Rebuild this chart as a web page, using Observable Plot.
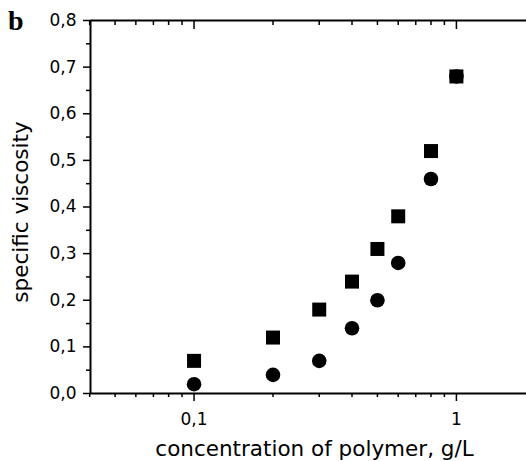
<!DOCTYPE html>
<html>
<head>
<meta charset="utf-8">
<script src="https://cdn.jsdelivr.net/npm/d3@7"></script>
<script src="https://cdn.jsdelivr.net/npm/@observablehq/plot@0.6"></script>
<style>
  html, body { margin: 0; padding: 0; background: #fff; }
  #wrap { position: relative; width: 526px; height: 461px; }
  #panel { position: absolute; z-index: 2; left: 8px; top: 7px; font-family: "Liberation Serif", "DejaVu Serif", serif; font-weight: bold; font-size: 28px; line-height: 1; color: #000; }
</style>
</head>
<body>
<div id="wrap"><div id="panel">b</div></div>
<script>
// Data
const concentration = [0.1, 0.2, 0.3, 0.4, 0.5, 0.6, 0.8, 1.0];
const squareSeries = [0.07, 0.12, 0.18, 0.24, 0.31, 0.38, 0.52, 0.68];
const circleSeries = [0.02, 0.04, 0.07, 0.14, 0.20, 0.28, 0.46, 0.68];

const yMajorTicks = [0, 0.1, 0.2, 0.3, 0.4, 0.5, 0.6, 0.7, 0.8];
const yMinorTicks = [0.05, 0.15, 0.25, 0.35, 0.45, 0.55, 0.65, 0.75];
const xMajorTicks = [0.1, 1];
const xMinorTicks = [0.04, 0.05, 0.06, 0.07, 0.08, 0.09, 0.2, 0.3, 0.4, 0.5, 0.6, 0.7, 0.8, 0.9];
const xDomain = [0.0403, 1.85];
const yDomain = [0, 0.8];
const xTitle = "concentration of polymer, g/L";
const yTitle = "specific viscosity";

const commaFmt = d => String(+d.toFixed(1)).replace(".", ",");
const yFmt = d => d.toFixed(1).replace(".", ",");
const blank = () => "";

const squares = concentration.map((c, i) => ({c, v: squareSeries[i]}));
const circles = concentration.map((c, i) => ({c, v: circleSeries[i]}));

const chart = Plot.plot({
  width: 526,
  height: 461,
  marginLeft: 90,
  marginTop: 20,
  marginBottom: 68,
  marginRight: 0,
  x: {type: "log", domain: xDomain},
  y: {domain: yDomain},
  style: {fontFamily: "'DejaVu Sans', sans-serif", background: "white", color: "black"},
  marks: [
    Plot.axisY({ticks: yMajorTicks, tickSize: 7, tickPadding: 7, tickFormat: yFmt, fontSize: 17, label: null, strokeWidth: 1.5}),
    Plot.axisY({ticks: yMinorTicks, tickSize: 4, tickFormat: blank, label: null, strokeWidth: 1.5}),
    Plot.axisX({ticks: xMajorTicks, tickSize: 8, tickPadding: 11, tickFormat: commaFmt, fontSize: 17, label: null, strokeWidth: 1.5}),
    Plot.axisX({ticks: xMinorTicks, tickSize: 4, tickFormat: blank, label: null, strokeWidth: 1.5}),
    Plot.axisX({anchor: "top", ticks: xMajorTicks, tickSize: -8, tickFormat: blank, label: null, strokeWidth: 1.5}),
    Plot.axisX({anchor: "top", ticks: xMinorTicks, tickSize: -4, tickFormat: blank, label: null, strokeWidth: 1.5}),
    Plot.ruleX([xDomain[0]], {strokeWidth: 2}),
    Plot.ruleY(yDomain, {strokeWidth: 2}),
    Plot.dot(squares, {x: "c", y: "v", symbol: "square", r: 7.9, fill: "black", stroke: null}),
    Plot.dot(circles, {x: "c", y: "v", symbol: "circle", r: 7.3, fill: "black", stroke: null}),
    Plot.text([xTitle], {frameAnchor: "bottom", textAnchor: "middle", lineAnchor: "top", dy: 47, dx: 6, fontSize: 21.5}),
    Plot.text([yTitle], {frameAnchor: "left", textAnchor: "middle", rotate: -90, lineAnchor: "middle", dx: -69, dy: 5, fontSize: 21.5})
  ]
});
document.getElementById("wrap").appendChild(chart);
chart.style.position = "absolute";
chart.style.left = "0";
chart.style.top = "0";
</script>
</body>
</html>
